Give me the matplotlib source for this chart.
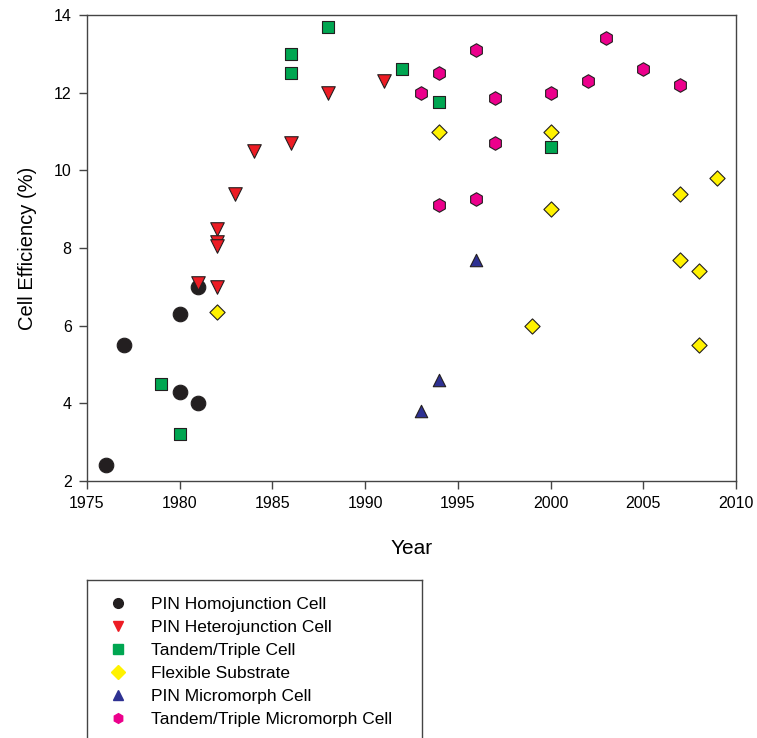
import matplotlib
matplotlib.use('Agg')
import matplotlib.pyplot as plt
from matplotlib.lines import Line2D

plt.rcParams['font.family'] = ['Liberation Sans', 'DejaVu Sans']

# data
homo_year = [1976, 1977, 1980, 1980, 1981, 1981]
homo_eff = [2.4, 5.5, 6.3, 4.3, 4.0, 7.0]

hetero_year = [1981, 1982, 1982, 1982, 1982, 1983, 1984, 1986, 1988, 1991]
hetero_eff = [7.1, 8.5, 8.15, 8.05, 7.0, 9.4, 10.5, 10.7, 12.0, 12.3]

tandem_year = [1979, 1980, 1986, 1986, 1988, 1992, 1994, 2000]
tandem_eff = [4.5, 3.2, 13.0, 12.5, 13.7, 12.6, 11.75, 10.6]

flex_year = [1982, 1994, 2000, 2000, 1999, 2007, 2009, 2007, 2008, 2008]
flex_eff = [6.35, 11.0, 11.0, 9.0, 6.0, 9.4, 9.8, 7.7, 7.4, 5.5]

micro_year = [1993, 1994, 1996]
micro_eff = [3.8, 4.6, 7.7]

tmicro_year = [1993, 1994, 1994, 1996, 1996, 1997, 1997, 2000, 2002, 2003, 2005, 2007]
tmicro_eff = [12.0, 12.5, 9.1, 13.1, 9.25, 11.85, 10.7, 12.0, 12.3, 13.4, 12.6, 12.2]

series = [
    ('PIN Homojunction Cell', homo_year, homo_eff, 'o', '#231f20', 110),
    ('PIN Heterojunction Cell', hetero_year, hetero_eff, 'v', '#ed1c24', 95),
    ('Tandem/Triple Cell', tandem_year, tandem_eff, 's', '#00a651', 70),
    ('Flexible Substrate', flex_year, flex_eff, 'D', '#fff200', 60),
    ('PIN Micromorph Cell', micro_year, micro_eff, '^', '#2e3192', 80),
    ('Tandem/Triple Micromorph Cell', tmicro_year, tmicro_eff, 'h', '#ec008c', 95),
]

fig = plt.figure(figsize=(7.57, 7.38), dpi=100)
ax = fig.add_axes([87 / 757, 1 - 481 / 738, (736 - 87) / 757, (481 - 15) / 738])

handles = []
for label, xs, ys, marker, color, size in series:
    ax.scatter(xs, ys, marker=marker, s=size, facecolor=color,
               edgecolor='#231f20', linewidth=0.8, zorder=3)
    handles.append(Line2D([], [], linestyle='none', marker=marker, markersize=7,
                          markerfacecolor=color, markeredgecolor=color, label=label))

ax.set_xlim(1975, 2010)
ax.set_ylim(2, 14)
ax.set_xticks(range(1975, 2011, 5))
ax.set_yticks(range(2, 15, 2))
ax.tick_params(direction='out', length=6, width=1, color='#444444',
               labelsize=11.5, top=False, right=False, pad=5)
for spine in ax.spines.values():
    spine.set_edgecolor('#444444')
    spine.set_linewidth(1)

ax.set_xlabel('Year', fontsize=15, labelpad=20)
ax.set_ylabel('Cell Efficiency (%)', fontsize=14.5, labelpad=12)

# legend box, cut off by the bottom of the figure like in the original
lax = fig.add_axes([87 / 757, -0.05, (422 - 87) / 757, (738 - 580) / 738 + 0.05])
lax.set_xticks([])
lax.set_yticks([])
for spine in lax.spines.values():
    spine.set_edgecolor('#444444')
    spine.set_linewidth(1)
lax.legend(handles=handles, loc='upper left', bbox_to_anchor=(0.02, 0.95),
           frameon=False, fontsize=12.5, handletextpad=0.9, labelspacing=0.45,
           borderaxespad=0)

fig.savefig('out.png', dpi=100, facecolor='white')
